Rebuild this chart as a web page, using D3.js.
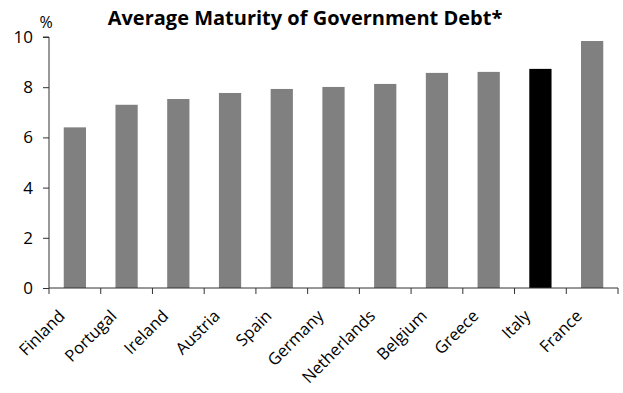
<!DOCTYPE html>
<html lang="en">
<head>
    <meta charset="UTF-8">
    <title>Average Maturity of Government Debt</title>
    <script src="https://cdn.jsdelivr.net/npm/d3@7"></script>
    <style>
        body {
            margin: 0;
            background: #fff;
            font-family: 'Open Sans', 'Noto Sans', sans-serif;
        }
        .axis text {
            font-family: 'Open Sans', 'Noto Sans', sans-serif;
            fill: #000;
        }
    </style>
</head>
<body>
    <svg id="chart" width="623" height="393"></svg>

    <script>
        const countries = ['Finland', 'Portugal', 'Ireland', 'Austria', 'Spain', 'Germany',
            'Netherlands', 'Belgium', 'Greece', 'Italy', 'France'];
        const maturity = [6.4, 7.3, 7.53, 7.77, 7.93, 8.01, 8.13, 8.57, 8.61, 8.73, 9.84];
        const highlight = 'Italy';
        const yTicks = [0, 2, 4, 6, 8, 10];

        const svg = d3.select("#chart");
        const plotLeft = 49, plotRight = 618, plotTop = 37, plotBottom = 288;

        const x = d3.scaleBand()
            .domain(countries)
            .range([plotLeft, plotRight])
            .paddingInner(0.57)
            .paddingOuter(0.285);

        const y = d3.scaleLinear()
            .domain([0, 10])
            .range([plotBottom, plotTop]);

        // bars
        svg.append("g")
            .selectAll("rect")
            .data(countries)
            .enter()
            .append("rect")
            .attr("x", d => x(d))
            .attr("width", x.bandwidth())
            .attr("y", (d, i) => y(maturity[i]))
            .attr("height", (d, i) => plotBottom - y(maturity[i]))
            .attr("fill", d => d === highlight ? "#000" : "#808080");

        // y axis
        const yAxis = svg.append("g")
            .attr("class", "axis")
            .attr("transform", `translate(${plotLeft},0)`)
            .call(d3.axisLeft(y).tickValues(yTicks).tickSize(6).tickPadding(10).tickFormat(d3.format("d")));
        yAxis.selectAll("text").attr("font-size", 17);
        yAxis.selectAll("line, path").attr("stroke", "#333");
        yAxis.select(".domain").attr("d", `M-6,${plotTop}H0V${plotBottom}`);

        // x axis, ticks on band edges
        const edges = countries.map(c => x(c) - x.step() * x.paddingInner() / 2);
        edges.push(plotRight);
        const xAxis = svg.append("g")
            .attr("class", "axis")
            .attr("transform", `translate(0,${plotBottom})`);
        xAxis.append("line")
            .attr("x1", plotLeft).attr("x2", plotRight)
            .attr("stroke", "#333");
        xAxis.selectAll(".tk")
            .data(edges)
            .enter()
            .append("line")
            .attr("class", "tk")
            .attr("x1", d => d).attr("x2", d => d)
            .attr("y1", 0).attr("y2", 6)
            .attr("stroke", "#333");
        xAxis.selectAll("text")
            .data(countries)
            .enter()
            .append("text")
            .attr("transform", d => `translate(${x(d) + x.bandwidth() / 2 - 9},${29}) rotate(-45)`)
            .attr("text-anchor", "end")
            .attr("font-size", 16.5)
            .text(d => d);

        // unit label and title
        svg.append("text")
            .attr("x", 46).attr("y", 28)
            .attr("text-anchor", "middle")
            .attr("font-size", 16)
            .text("%");

        svg.append("text")
            .attr("x", 305).attr("y", 25)
            .attr("text-anchor", "middle")
            .attr("font-size", 20)
            .attr("font-weight", "bold")
            .text("Average Maturity of Government Debt*");
    </script>
</body>
</html>
